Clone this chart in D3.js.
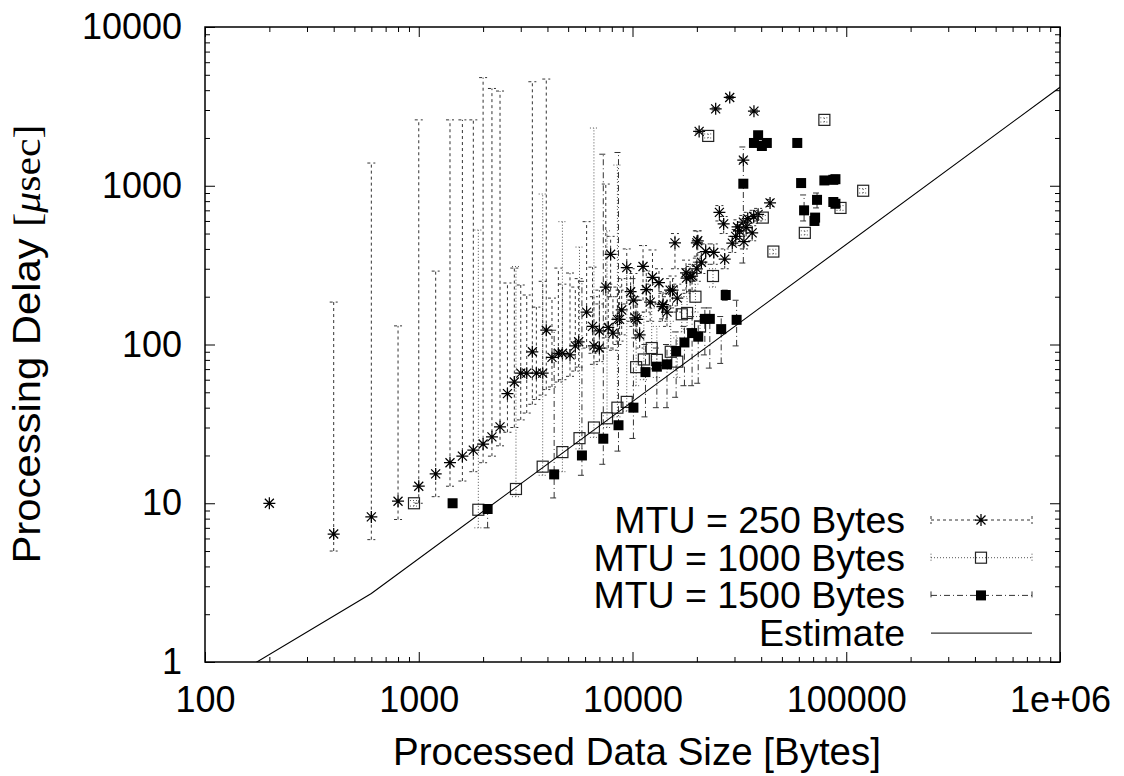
<!DOCTYPE html>
<html>
<head>
<meta charset="utf-8">
<script src="https://cdn.jsdelivr.net/npm/d3@7"></script>
<style>
  body { margin: 0; background: #fff; }
  svg { display: block; }
  text { font-family: "Liberation Sans", Arial, Helvetica, sans-serif; fill: #000; }
</style>
</head>
<body>
<svg id="chart" width="1124" height="776"></svg>
<script>
// axis ticks
const xTicks = [100, 1000, 10000, 100000, 1000000]
const xTickLabels = ["100", "1000", "10000", "100000", "1e+06"]
const yTicks = [1, 10, 100, 1000, 10000]
const yTickLabels = ["1", "10", "100", "1000", "10000"]

// MTU = 250 Bytes
const mtu250Size  = [200,400,600,800,1000,1200,1400,1600,1800,2000,2200,2400,2600,2800,3000,3200,3400,3550,3800,3950,
  4200,4500,4700,5100,5400,5600,6100,6500,6600,7000,7000,7500,7700,7900,8100,8500,8700,8900,9400,9800,
  10100,10300,10500,10800,11200,11600,12100,12400,13300,13800,13900,14500,15000,15400,15800,16200,17800,17900,18600,19000,
  20000,20000,20200,20500,21000,22000,24000,24500,25500,26700,27000,28500,29300,30400,31000,31700,33000,33000,33200,34000,
  34600,36300,36900,37000,38700,44000]
const mtu250Delay = [10,6.4,8.2,10.3,12.8,15.3,18,19.8,21.6,23.6,26.2,30.3,49,58,66,66,90,66,66,123,
  83,88,88,86,98,104,160,130,98,95,122,230,128,370,118,144,144,165,305,215,
  190,147,144,115,310,222,185,265,245,173,178,160,220,220,437,196,283,262,267,270,
  437,300,450,2200,330,385,380,3050,680,575,345,3600,435,480,550,520,590,1450,445,545,
  620,505,640,2950,660,780]
const mtu250Low   = [10,5.0,5.9,7.9,10,11,12.8,13.8,15.8,18,19.8,23,28,30,33.5,37,42,45,48,52,
  54,58,60,63,68,72,95,88,75,78,90,110,95,200,92,100,105,115,180,140,
  130,110,110,95,190,160,140,180,180,140,145,130,170,175,300,160,220,210,215,220,
  330,250,360,2150,280,320,320,3000,600,500,300,3550,380,420,480,460,520,1400,400,480,
  560,450,580,2900,600,740]
const mtu250High  = [10,185,1390,131,2600,290,2600,2600,2600,4800,4100,3950,244,303,237,205,4520,172,250,4700,
  196,303,240,282,230,260,594,307,200,180,220,1025,240,480,200,230,220,260,400,300,
  280,200,190,160,420,290,240,394,300,210,215,200,260,270,500,240,340,300,310,320,
  520,350,520,2250,380,430,430,3100,750,640,400,3650,480,530,610,570,650,1500,500,600,
  680,560,700,3000,720,820]

// MTU = 1000 Bytes
const mtu1000Size  = [950,1900,2850,3800,4700,5650,6600,7600,8500,9400,10400,11300,12300,13000,15100,16200,17000,18000,19700,20700,
  22600,23800,40700,45600,64000,79000,94000,120000]
const mtu1000Delay = [10,9.1,12.3,17,21,25.7,30,34.3,40,43.5,72,80.5,95,80,90,78,155,158,200,130,
  2060,270,630,385,505,2600,725,930]
const mtu1000Low   = [9.6,7.0,11,15,15.8,22,26,30,35,38,55,60,70,62,70,62,120,125,160,110,
  2000,230,610,372,490,2520,700,900]
const mtu1000High  = [10.4,526,310,887,594,411,2310,520,1350,300,200,150,170,130,140,110,200,200,240,150,
  2120,300,650,398,520,2680,750,960]

// MTU = 1500 Bytes
const mtu1500Size  = [1440,2100,4300,5800,7300,8600,10100,11500,13000,14500,16000,17500,19000,20300,21800,23000,26000,27300,30700,33000,
  37000,38700,40300,42500,59000,61500,63500,71000,71500,73000,79000,87000,87000,89000,89000]
const mtu1500Delay = [10,9.2,15.2,20,25.5,31,40,67,72.5,75,91,103,118,112,145,145,125,205,143,1030,
  1860,2080,1780,1860,1860,1040,700,600,630,815,1080,1090,790,1100,770]
const mtu1500Low   = [10,7.0,10.8,15,17.6,21.3,25.6,35,40,40,46.5,55,55,57,86,71,76,190,98,326,
  1800,2000,1720,1800,1800,1000,600,580,610,725,1050,1060,760,1070,740]
const mtu1500High  = [10,9.6,123,250,1580,1620,260,100,95,100,120,130,150,140,170,170,150,220,190,1755,
  1920,2150,1840,1920,1920,1080,875,620,650,900,1110,1120,820,1130,800]

// Estimate
const estimateSize  = [150, 600, 1000000]
const estimateDelay = [0.884, 2.7, 4170]

const legendLabels = ["MTU = 250 Bytes", "MTU = 1000 Bytes", "MTU = 1500 Bytes", "Estimate"]

const svg = d3.select('#chart')
const pL = 205, pR = 1060, pT = 27, pB = 662

const x = d3.scaleLog().domain([100, 1e6]).range([pL, pR])
const y = d3.scaleLog().domain([1, 1e4]).range([pB, pT])

const minorOf = (lo, hi) => {
  let a = []
  for (let d = lo; d < hi; d *= 10) for (let k = 2; k < 10; k++) a.push(d * k)
  return a
}
const xMinor = minorOf(100, 1e6)
const yMinor = minorOf(1, 1e4)

const styleAxis = g => {
  g.select('.domain').remove()
  g.selectAll('.tick line').attr('stroke', '#000').attr('stroke-width', 1)
  g.attr('font-size', 36).attr('font-family', '"Liberation Sans", Arial, sans-serif')
  g.selectAll('text').attr('fill', '#000')
}

// major + minor ticks, mirrored on all four sides
svg.append('g').attr('transform', `translate(0,${pB})`)
  .call(d3.axisBottom(x).tickValues(xTicks).tickSize(-10).tickPadding(24).tickFormat((d, i) => xTickLabels[i])).call(styleAxis)
svg.append('g').attr('transform', `translate(0,${pB})`)
  .call(d3.axisBottom(x).tickValues(xMinor).tickSize(-5).tickFormat('')).call(styleAxis)
svg.append('g').attr('transform', `translate(0,${pT})`)
  .call(d3.axisTop(x).tickValues(xTicks).tickSize(-10).tickFormat('')).call(styleAxis)
svg.append('g').attr('transform', `translate(0,${pT})`)
  .call(d3.axisTop(x).tickValues(xMinor).tickSize(-5).tickFormat('')).call(styleAxis)

svg.append('g').attr('transform', `translate(${pL},0)`)
  .call(d3.axisLeft(y).tickValues(yTicks).tickSize(-10).tickPadding(23).tickFormat((d, i) => yTickLabels[i])).call(styleAxis)
svg.append('g').attr('transform', `translate(${pL},0)`)
  .call(d3.axisLeft(y).tickValues(yMinor).tickSize(-5).tickFormat('')).call(styleAxis)
svg.append('g').attr('transform', `translate(${pR},0)`)
  .call(d3.axisRight(y).tickValues(yTicks).tickSize(-10).tickFormat('')).call(styleAxis)
svg.append('g').attr('transform', `translate(${pR},0)`)
  .call(d3.axisRight(y).tickValues(yMinor).tickSize(-5).tickFormat('')).call(styleAxis)

// axis titles
svg.append('text').attr('x', 637).attr('y', 765).attr('text-anchor', 'middle').attr('font-size', 38.5)
  .text('Processed Data Size [Bytes]')
const yt = svg.append('text').attr('transform', 'translate(40,344) rotate(-90) scale(1.1,1)')
  .attr('text-anchor', 'middle').attr('font-size', 38)
yt.append('tspan').text('Processing Delay ')
const ser = yt.append('tspan').style('font-family', '"Liberation Serif", "Times New Roman", serif')
ser.append('tspan').text('[')
ser.append('tspan').style('font-style', 'italic').text('\u03bc')
ser.append('tspan').text('sec]')

// markers
const star = (g, cx, cy) => g.append('path')
  .attr('d', `M${cx - 6},${cy}h12M${cx},${cy - 6}v12M${cx - 4.5},${cy - 4.5}l9,9M${cx - 4.5},${cy + 4.5}l9,-9`)
  .attr('stroke', '#000').attr('stroke-width', 1.25).attr('fill', 'none')
const openSq = (g, cx, cy) => g.append('rect')
  .attr('x', cx - 5.5).attr('y', cy - 5.5).attr('width', 11).attr('height', 11)
  .attr('fill', 'none').attr('stroke', '#222').attr('stroke-width', 1.2)
const fillSq = (g, cx, cy) => g.append('rect')
  .attr('x', cx - 5).attr('y', cy - 5).attr('width', 10).attr('height', 10).attr('fill', '#000')

svg.append('clipPath').attr('id', 'plot').append('rect')
  .attr('x', pL).attr('y', pT).attr('width', pR - pL).attr('height', pB - pT)
const plot = svg.append('g').attr('clip-path', 'url(#plot)')

const drawSeries = (sizes, delays, lows, highs, dash, color, marker) => {
  const g = plot.append('g')
  const idx = d3.range(sizes.length).filter(i => lows[i] !== highs[i])
  const bars = g.append('g').attr('stroke', color).attr('stroke-width', 1).attr('stroke-dasharray', dash).attr('fill', 'none')
  bars.selectAll('line.v').data(idx).join('line').attr('class', 'v')
    .attr('x1', i => x(sizes[i])).attr('x2', i => x(sizes[i]))
    .attr('y1', i => y(lows[i])).attr('y2', i => y(highs[i]))
  bars.selectAll('line.lo').data(idx).join('line').attr('class', 'lo')
    .attr('x1', i => x(sizes[i]) - 4).attr('x2', i => x(sizes[i]) + 4)
    .attr('y1', i => y(lows[i])).attr('y2', i => y(lows[i]))
  bars.selectAll('line.hi').data(idx).join('line').attr('class', 'hi')
    .attr('x1', i => x(sizes[i]) - 4).attr('x2', i => x(sizes[i]) + 4)
    .attr('y1', i => y(highs[i])).attr('y2', i => y(highs[i]))
  sizes.forEach((s, i) => marker(g, x(s), y(delays[i])))
}

const dashes = ['3,3', '1,2', '6,3,1,3']
const barColors = ['#333', '#555', '#333']

drawSeries(mtu250Size, mtu250Delay, mtu250Low, mtu250High, dashes[0], barColors[0], star)
drawSeries(mtu1000Size, mtu1000Delay, mtu1000Low, mtu1000High, dashes[1], barColors[1], openSq)
drawSeries(mtu1500Size, mtu1500Delay, mtu1500Low, mtu1500High, dashes[2], barColors[2], fillSq)

plot.append('path')
  .datum(d3.range(estimateSize.length))
  .attr('d', d3.line().x(i => x(estimateSize[i])).y(i => y(estimateDelay[i])))
  .attr('fill', 'none').attr('stroke', '#000').attr('stroke-width', 1.1)

// frame
svg.append('rect').attr('x', pL).attr('y', pT).attr('width', pR - pL).attr('height', pB - pT)
  .attr('fill', 'none').attr('stroke', '#000').attr('stroke-width', 1.5)

// legend
const markers = [star, openSq, fillSq, null]
legendLabels.forEach((lab, i) => {
  const cy = 520 + i * 37.7
  svg.append('text').attr('x', 905).attr('y', cy + 13).attr('text-anchor', 'end').attr('font-size', 37.5).text(lab)
  const g = svg.append('g')
  g.append('line').attr('x1', 931).attr('x2', 1032).attr('y1', cy).attr('y2', cy)
    .attr('stroke', i < 3 ? barColors[i] : '#000').attr('stroke-width', 1)
    .attr('stroke-dasharray', i < 3 ? dashes[i] : null)
  if (i < 3) {
    [931, 1032].forEach(ex => g.append('line').attr('x1', ex).attr('x2', ex).attr('y1', cy - 4).attr('y2', cy + 4)
      .attr('stroke', barColors[i]).attr('stroke-width', 1).attr('stroke-dasharray', dashes[i]))
    markers[i](g, 981, cy)
  }
})
</script>
</body>
</html>
